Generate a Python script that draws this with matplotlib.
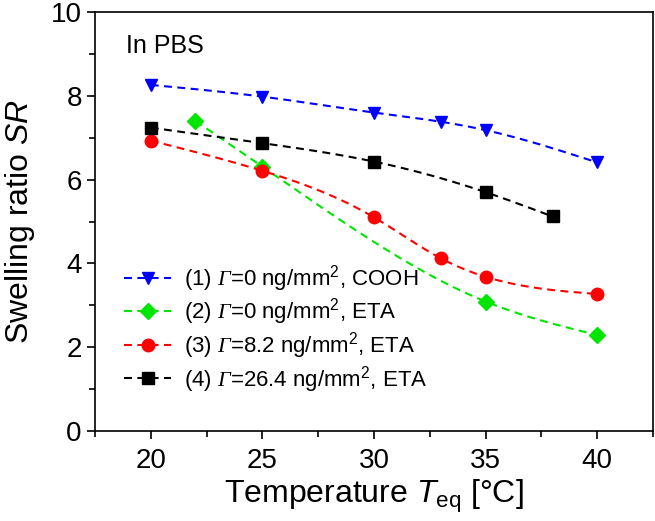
import numpy as np
import matplotlib
matplotlib.use("Agg")
import matplotlib.pyplot as plt
from matplotlib.lines import Line2D

plt.rcParams['font.family'] = ['Liberation Sans', 'DejaVu Sans']
plt.rcParams['mathtext.fontset'] = 'custom'
plt.rcParams['mathtext.rm'] = 'Liberation Sans'
plt.rcParams['mathtext.it'] = 'Liberation Sans:italic'
plt.rcParams['mathtext.bf'] = 'Liberation Sans:bold'
plt.rcParams['mathtext.sf'] = 'Liberation Serif:italic'

# Data
t1 = [20, 25, 30, 33, 35, 40]
sr1 = [8.26, 7.98, 7.60, 7.38, 7.18, 6.41]
t2 = [22, 25, 35, 40]
sr2 = [7.40, 6.31, 3.09, 2.29]
t3 = [20, 25, 30, 33, 35, 40]
sr3 = [6.93, 6.21, 5.10, 4.12, 3.68, 3.27]
t4 = [20, 25, 30, 35, 38]
sr4 = [7.24, 6.87, 6.43, 5.70, 5.12]

labels = [r"(1) $\mathsf{\Gamma}$=0 ng/mm$^2$, COOH",
          r"(2) $\mathsf{\Gamma}$=0 ng/mm$^2$, ETA",
          r"(3) $\mathsf{\Gamma}$=8.2 ng/mm$^2$, ETA",
          r"(4) $\mathsf{\Gamma}$=26.4 ng/mm$^2$, ETA"]
colors = ['#0000ff', '#00e600', '#ff0000', '#000000']
markers = ['v', 'D', 'o', 's']
msizes = [9, 8, 9, 8]


def natural_spline(x, y, n=200):
    x = np.asarray(x, float); y = np.asarray(y, float)
    k = len(x)
    h = np.diff(x)
    A = np.zeros((k, k)); b = np.zeros(k)
    A[0, 0] = 1; A[-1, -1] = 1
    for i in range(1, k - 1):
        A[i, i - 1] = h[i - 1]
        A[i, i] = 2 * (h[i - 1] + h[i])
        A[i, i + 1] = h[i]
        b[i] = 3 * ((y[i + 1] - y[i]) / h[i] - (y[i] - y[i - 1]) / h[i - 1])
    c = np.linalg.solve(A, b)
    xs = np.linspace(x[0], x[-1], n)
    idx = np.clip(np.searchsorted(x, xs) - 1, 0, k - 2)
    dx = xs - x[idx]
    bb = (y[1:] - y[:-1]) / h - h * (2 * c[:-1] + c[1:]) / 3
    d = (c[1:] - c[:-1]) / (3 * h)
    ys = y[idx] + bb[idx] * dx + c[idx] * dx ** 2 + d[idx] * dx ** 3
    return xs, ys


fig = plt.figure(figsize=(6.55, 5.21), dpi=100)
ax = fig.add_axes([0.145, 0.1727, 0.852, 0.8043])

series = [(t1, sr1), (t2, sr2), (t3, sr3), (t4, sr4)]
handles = []
for (x, y), c, m, ms, lab in zip(series, colors, markers, msizes, labels):
    xs, ys = natural_spline(x, y)
    ax.plot(xs, ys, color=c, lw=1.5, dashes=(3.8, 2.6))
    ax.plot(x, y, ls='none', marker=m, color=c, ms=ms, mec=c)
    handles.append(Line2D([], [], color=c, lw=1.5, dashes=(3.8, 2.6), marker=m,
                          ms=ms, mec=c, label=lab))

ax.set_xlim(17.5, 42.5)
ax.set_ylim(0, 10)
ax.set_xticks([20, 25, 30, 35, 40])
ax.set_xticks(np.arange(17.5, 42.6, 2.5), minor=True)
ax.set_yticks([0, 2, 4, 6, 8, 10])
ax.set_yticks(np.arange(0, 10.1, 1), minor=True)
ax.tick_params(axis='both', which='major', direction='out', length=6, width=1.2,
               labelsize=20)
ax.tick_params(axis='x', which='major', pad=6)
ax.tick_params(axis='both', which='minor', direction='out', length=4, width=1.2)
for s in ax.spines.values():
    s.set_linewidth(1.2)

ax.set_xlabel(r"Temperature $\mathit{T}_{\mathrm{eq}}$ [°C]", fontsize=23, labelpad=3)
ax.set_ylabel(r"Swelling ratio $\mathit{SR}$", fontsize=23, labelpad=10)

ax.text(0.055, 0.92, "In PBS", transform=ax.transAxes, fontsize=18,
        ha='left', va='center')

leg = ax.legend(handles=handles, loc='lower left', bbox_to_anchor=(0.025, 0.05),
                frameon=False, fontsize=16, handlelength=2.1,
                handletextpad=0.6, labelspacing=0.12, borderaxespad=0.3)

fig.savefig("out.png", dpi=100)
